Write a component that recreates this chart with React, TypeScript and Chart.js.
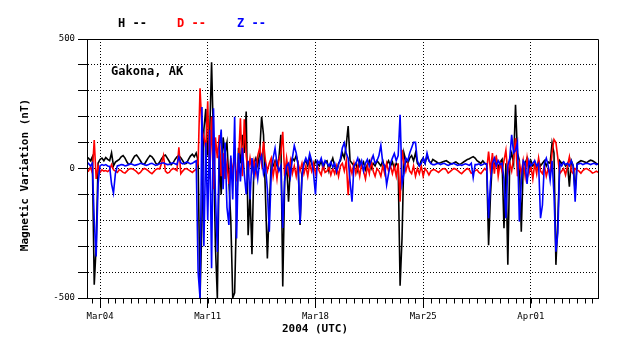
import React, { useEffect, useRef } from 'react';
import { Chart, registerables } from 'chart.js';

Chart.register(...registerables);

// ---- data (days relative to 2004-03-04 00:00 UTC) ----
const FIRST_SAMPLE_DAY = -0.875;
const SAMPLE_STEP_DAYS = 0.125;
const X_MIN = -0.845;
const X_MAX = 32.36;
const Y_MIN = -500;
const Y_MAX = 500;
const Y_STEP = 100;
const MAJOR_TICK_DAYS = [0, 7, 14, 21, 28];
const MAJOR_TICK_LABELS = ['Mar04', 'Mar11', 'Mar18', 'Mar25', 'Apr01'];
const Y_LABELED = [-500, 0, 500];
const SERIES_NAMES = ['H', 'D', 'Z'];
const SERIES_COLORS = ['#000000', '#ff0000', '#0000ff'];
const STATION = 'Gakona, AK';
const X_TITLE = '2004 (UTC)';
const Y_TITLE = 'Magnetic Variation (nT)';

const H_VALUES = [
  35, 40, 30, 45, -449, -300, 20, 35, 40, 30,
  42, 35, 30, 60, 10, 25, 30, 35, 45, 50,
  40, 25, 15, 20, 35, 48, 52, 42, 30, 18,
  15, 28, 40, 50, 45, 35, 20, 15, 25, 38,
  48, 52, 40, 28, 15, 22, 35, 45, 50, 42,
  30, 18, 20, 35, 48, 55, 45, 60, 30, -500,
  -200, 150, 230, 50, 120, 410, 100, -300, -500, 50,
  -100, 120, 60, 100, -50, -200, -500, -480, -150, 80,
  20, 130, 60, 220, -258, -100, -331, 20, 40, 10,
  60, 200, 130, -100, -347, -150, 20, 10, 30, 10,
  40, 130, -456, -50, 20, -128, 10, 40, 30, 50,
  20, -218, -20, 20, 30, 10, 40, 20, 0, 30,
  20, 10, 30, 0, 25, 30, -10, 20, 40, 10,
  -15, 20, 30, 60, 40, 90, 164, 30, 20, 10,
  20, -10, 30, 10, 25, -5, 15, 30, 0, 20,
  10, 30, 20, 10, 30, 0, 15, 30, 10, 25,
  0, 20, 10, -453, -270, 60, 30, 20, 40, 50,
  30, 60, 20, 10, 30, 40, 20, 50, 30, 20,
  35, 30, 25, 20, 22, 25, 28, 30, 25, 20,
  18, 22, 25, 20, 15, 20, 25, 30, 35, 38,
  42, 46, 40, 30, 25, 20, 30, 20, 15, -296,
  -100, 30, 10, 40, 0, 25, 35, -231, 20, -372,
  30, 60, 20, 246, 60, 30, -244, 10, 20, 40,
  0, 30, 10, 20, 0, 30, 10, 20, 30, 10,
  25, 20, 99, 60, -372, -200, 30, 20, 25, 10,
  20, -70, 30, 10, -90, 20, 25, 30, 28, 25,
  22, 28, 32, 30, 25, 20, 15,
];

const D_VALUES = [
  -5, -10, 5, -15, 110, -40, 10, -15, -5, -10,
  -8, -12, -5, 15, -5, -10, -15, -5, -8, -15,
  -18, -10, -3, 0, -2, -6, -12, -20, -15, -5,
  0, -3, -8, -15, -20, -12, -4, 0, -2, 20,
  50, -10, -18, -15, -5, 0, -3, -8, 82, -20,
  -10, -2, 0, -5, -10, -15, -8, -3, 20, 310,
  150, 120, 80, 260, -40, 200, -80, 120, 40, 129,
  -30, 60, -40, 20, -60, 40, -20, 60, -50, 30,
  194, -30, 190, 50, -20, 40, -10, 30, -20, 50,
  80, 20, 104, 30, -10, 20, 40, -30, 20, -40,
  30, 60, 142, -30, 40, -20, 30, -20, 10, -30,
  20, -10, 20, -20, 10, -30, 20, -10, 20, -20,
  10, -10, -25, 15, -15, -10, 5, -25, 0, -20,
  10, -30, 10, 20, -10, 30, -103, 10, -20, 20,
  -20, 10, -30, 20, -10, -40, 10, -20, 30, -10,
  -30, 0, -10, -30, 10, -20, 20, -10, 10, -20,
  10, -30, 20, -128, 72, 20, -10, 20, -10, -20,
  10, -30, 0, -20, 10, -30, 0, -10, -25, -10,
  -5, -5, -10, -15, -8, -2, 0, -5, -18, -12,
  -5, 0, -3, -8, -15, -20, -12, -5, 0, -5,
  -18, -15, -8, -5, -15, -20, -10, 0, -8, 65,
  -10, 60, -20, 50, -30, 20, -10, 30, 70, -20,
  20, -10, 40, 117, -30, 20, -20, 30, -30, 40,
  -20, 10, -40, 20, -20, 40, -10, -20, 10, -30,
  0, -20, 60, 112, 100, 40, -20, -10, 0, -25,
  10, 45, -10, -20, 0, -5, -10, -18, -8, -2,
  0, -5, -10, -18, -15, -10, -15,
];

const Z_VALUES = [
  15, 20, 10, 20, -200, -340, -60, 10, 15, 12,
  15, 10, 8, -60, -95, -20, 10, 12, 15, 14,
  10, 12, 16, 18, 15, 12, 14, 16, 20, 18,
  15, 12, 14, 18, 20, 16, 12, 15, 18, 20,
  22, 18, 15, 16, 20, 22, 18, 15, 45, 22,
  18, 20, 25, 22, 18, 20, 25, 30, -400, -500,
  237, -300, 100, -200, 150, -385, 233, -100, -322, 80,
  150, -80, 100, -150, -218, 50, -120, 200, -270, 60,
  -50, 80, -20, -100, 30, -120, 40, -30, 20, -40,
  30, 50, -20, 10, -80, -244, -20, 40, 78, 20,
  -10, 10, -230, -40, 10, 20, -30, 40, 88, 60,
  10, -212, -30, 20, 40, 20, 58, 30, -20, -100,
  30, 20, 40, 10, 30, 20, 10, 25, 5, 20,
  -10, 15, 40, 80, 99, 60, 40, -50, -128, 10,
  20, 40, 10, 30, -10, 20, 35, 10, 30, 50,
  20, 30, 50, 90, 20, 10, -63, -20, 20, 40,
  58, 30, 50, 207, -60, -20, 40, 30, 60, 80,
  101, 101, 30, 10, 20, 40, 20, 60, 30, 20,
  15, 15, 18, 20, 15, 18, 20, 15, 12, 15,
  18, 20, 15, 12, 15, 12, 15, 18, 15, 12,
  20, -35, 15, 15, 18, 12, 15, 20, 18, -192,
  -50, 20, 40, 10, 30, 15, 20, -40, -192, 10,
  40, 130, 60, 70, 100, -205, -50, 30, 20, -60,
  30, 10, 20, 30, 10, 20, -192, -141, 20, 40,
  10, -45, 30, -100, -321, -250, 20, 10, 25, 15,
  20, 10, 30, 10, -128, 15, 18, 20, 15, 18,
  20, 18, 15, 18, 20, 15, 18,
];

const SERIES_VALUES = [H_VALUES, D_VALUES, Z_VALUES];

const MONO = '"DejaVu Sans Mono", "Liberation Mono", monospace';

const decorPlugin = {
  id: 'decor',
  afterDraw(chart: any) {
    const { ctx, chartArea: a, scales } = chart;
    const xs = scales.x;
    ctx.save();
    ctx.setLineDash([]);
    ctx.strokeStyle = '#000';
    ctx.lineWidth = 1;
    const L = Math.round(a.left) + 0.5;
    const T = Math.round(a.top) + 0.5;
    const R = Math.round(a.right) + 0.5;
    const B = Math.round(a.bottom) + 0.5;
    ctx.beginPath();
    ctx.moveTo(L, T); ctx.lineTo(R, T); ctx.lineTo(R, B); ctx.lineTo(L, B); ctx.closePath();
    ctx.stroke();

    // half-day minor ticks below the x axis
    ctx.beginPath();
    for (let d = Math.ceil(X_MIN * 2) / 2; d <= X_MAX; d += 0.5) {
      const px = Math.round(xs.getPixelForValue(d)) + 0.5;
      ctx.moveTo(px, B);
      ctx.lineTo(px, B + 5);
    }
    ctx.stroke();

    // legend
    ctx.textBaseline = 'middle';
    ctx.textAlign = 'left';
    ctx.font = `bold 12px ${MONO}`;
    const legendX = [118, 177, 237];
    SERIES_NAMES.forEach((n, k) => {
      ctx.fillStyle = SERIES_COLORS[k];
      ctx.fillText(`${n} --`, legendX[k], 24);
    });

    // station label
    ctx.fillStyle = '#000';
    ctx.font = `bold 12px ${MONO}`;
    ctx.fillText(STATION, 111, 72);

    // x title
    ctx.textAlign = 'center';
    ctx.font = `bold 11px ${MONO}`;
    ctx.fillText(X_TITLE, 315, 329);

    // y title
    ctx.translate(25, 175);
    ctx.rotate(-Math.PI / 2);
    ctx.fillText(Y_TITLE, 0, 0);
    ctx.restore();
  },
};

export default function App() {
  const ref = useRef<HTMLCanvasElement | null>(null);

  useEffect(() => {
    document.body.style.margin = '0';
    const canvas = ref.current;
    if (!canvas) return;
    const datasets = SERIES_NAMES.map((name, k) => ({
      label: name,
      data: SERIES_VALUES[k].map((v, i) => ({ x: FIRST_SAMPLE_DAY + i * SAMPLE_STEP_DAYS, y: v })),
      borderColor: SERIES_COLORS[k],
      backgroundColor: SERIES_COLORS[k],
      borderWidth: 1.6,
      pointRadius: 0,
      tension: 0,
      fill: false,
      order: 3 - k,
    }));

    const chart = new Chart(canvas, {
      type: 'line',
      data: { datasets },
      options: {
        animation: false,
        responsive: false,
        devicePixelRatio: 1,
        layout: { padding: { left: 0, top: 39, right: 40, bottom: 0 } },
        plugins: { legend: { display: false }, tooltip: { enabled: false }, title: { display: false } },
        scales: {
          x: {
            type: 'linear',
            min: X_MIN,
            max: X_MAX,
            afterBuildTicks: (s: any) => {
              s.ticks = MAJOR_TICK_DAYS.map((v) => ({ value: v }));
            },
            afterFit: (s: any) => {
              s.height = 61;
            },
            ticks: {
              autoSkip: false,
              maxRotation: 0,
              padding: 3,
              color: '#000',
              font: { family: MONO, size: 9 },
              callback: (_v: any, idx: number) => MAJOR_TICK_LABELS[idx] ?? '',
            },
            grid: { color: '#000', lineWidth: 1, tickLength: 10, drawTicks: true, tickColor: '#000' },
            border: { display: true, color: '#000', width: 1, dash: [1, 2] },
          },
          y: {
            type: 'linear',
            min: Y_MIN,
            max: Y_MAX,
            afterFit: (s: any) => {
              s.width = 87;
            },
            ticks: {
              stepSize: Y_STEP,
              padding: 3,
              color: '#000',
              font: { family: MONO, size: 9 },
              callback: (v: any) => (Y_LABELED.includes(Number(v)) ? String(v) : ''),
            },
            grid: { color: '#000', lineWidth: 1, tickLength: 9, drawTicks: true, tickColor: '#000' },
            border: { display: true, color: '#000', width: 1, dash: [1, 2] },
          },
        },
      },
      plugins: [decorPlugin],
    });
    return () => chart.destroy();
  }, []);

  return (
    <div style={{ width: 638, height: 359, background: '#fff' }}>
      <canvas ref={ref} width={638} height={359} style={{ display: 'block' }} />
    </div>
  );
}
